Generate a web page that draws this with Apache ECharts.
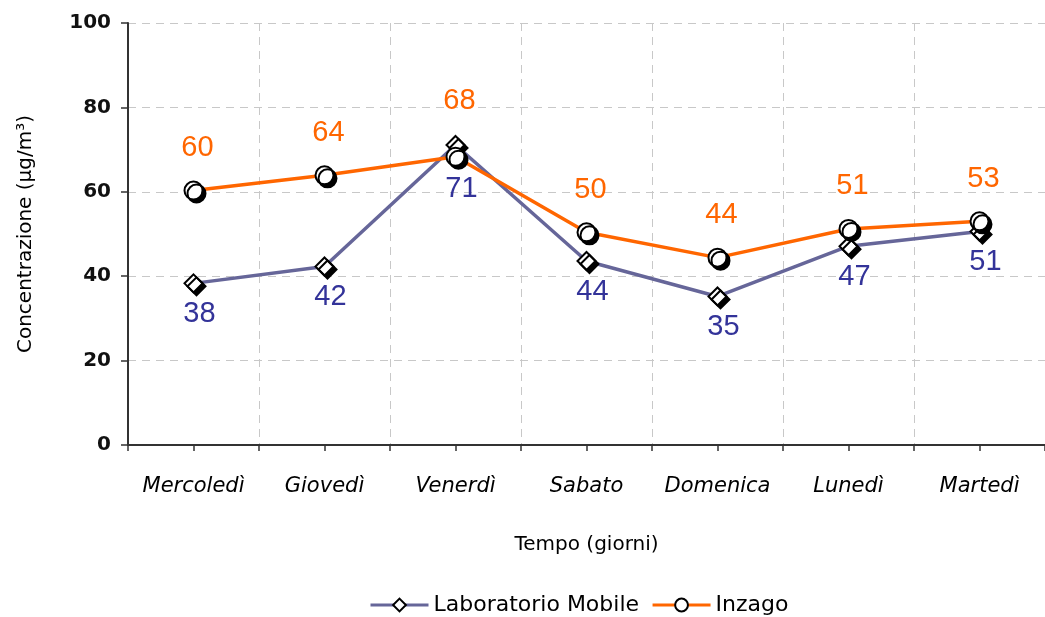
<!DOCTYPE html>
<html>
<head>
<meta charset="utf-8">
<script src="https://cdn.jsdelivr.net/npm/echarts@6/dist/echarts.min.js"></script>
<style>
html,body{margin:0;padding:0;background:#fff;}
#chart{width:1045px;height:617px;}
</style>
</head>
<body>
<div id="chart"></div>
<script>
const days = ['Mercoledì', 'Giovedì', 'Venerdì', 'Sabato', 'Domenica', 'Lunedì', 'Martedì'];
const laboratorioMobile = [38.3, 42.3, 71.1, 43.6, 35.2, 47.1, 50.6];
const inzago = [60.3, 63.9, 68.3, 50.4, 44.4, 51.2, 53.0];
const yTicks = [0, 20, 40, 60, 80, 100];

const chart = echarts.init(document.getElementById('chart'), null, {renderer: 'canvas'});
const markerShadow = {shadowColor: '#000', shadowBlur: 0, shadowOffsetX: 3, shadowOffsetY: 3};

// Venerdì labels were moved away from the crossing in the original
const labData = laboratorioMobile.map((v, i) => i === 2 ? {value: v, label: {distance: 20}} : v);
const inzData = inzago.map((v, i) => i === 2 ? {value: v, label: {distance: 31}} : v);

chart.setOption({
  animation: false,
  backgroundColor: '#fff',
  grid: {left: 128, top: 23, right: -7, bottom: 172, containLabel: false},
  legend: {
    top: 589,
    left: 364,
    itemWidth: 58,
    itemHeight: 16,
    itemGap: 12,
    lineStyle: {width: 3},
    textStyle: {fontFamily: 'DejaVu Sans', fontSize: 22, color: '#000'},
    data: ['Laboratorio Mobile', 'Inzago']
  },
  xAxis: [{
    type: 'category',
    data: days,
    boundaryGap: true,
    axisLine: {lineStyle: {color: '#333', width: 2}},
    axisTick: {show: true, interval: 0, length: 6, alignWithLabel: false, lineStyle: {color: '#333', width: 1.5}},
    axisLabel: {interval: 0, margin: 31, fontFamily: 'DejaVu Sans', fontStyle: 'italic', fontSize: 21, color: '#000'},
    splitLine: {show: true, interval: 0, lineStyle: {color: '#c8c8c8', type: [8, 6], width: 1}},
    name: 'Tempo (giorni)',
    nameLocation: 'middle',
    nameGap: 90,
    nameTextStyle: {fontFamily: 'DejaVu Sans', fontSize: 20, color: '#000'}
  }, {
    type: 'category',
    data: days,
    position: 'bottom',
    offset: 0,
    boundaryGap: true,
    axisLine: {show: false},
    axisTick: {show: true, interval: 0, length: 6, alignWithLabel: true, lineStyle: {color: '#333', width: 1.5}},
    axisLabel: {show: false, interval: 0},
    splitLine: {show: false}
  }],
  yAxis: {
    type: 'value',
    min: yTicks[0],
    max: yTicks[yTicks.length - 1],
    interval: 20,
    axisLine: {show: true, lineStyle: {color: '#333', width: 2}},
    axisTick: {show: true, length: 7, lineStyle: {color: '#333', width: 1.5}},
    axisLabel: {margin: 17, fontFamily: 'DejaVu Sans', fontWeight: 'bold', fontSize: 20, color: '#111'},
    splitLine: {show: true, lineStyle: {color: '#c8c8c8', type: [8, 6], width: 1}},
    name: 'Concentrazione (μg/m³)',
    nameLocation: 'middle',
    nameGap: 92,
    nameTextStyle: {fontFamily: 'DejaVu Sans', fontSize: 20, color: '#000'}
  },
  series: [{
    name: 'Laboratorio Mobile',
    type: 'line',
    xAxisIndex: 0,
    data: labData,
    symbol: 'diamond',
    symbolSize: 18,
    lineStyle: {color: '#666699', width: 3.5},
    itemStyle: Object.assign({color: '#fff', borderColor: '#000', borderWidth: 2}, markerShadow),
    label: {
      show: true, position: 'bottom', distance: 6, offset: [6, 0],
      formatter: p => Math.round(p.value),
      fontFamily: 'Liberation Sans', fontSize: 29, color: '#333399'
    }
  }, {
    name: 'Inzago',
    type: 'line',
    xAxisIndex: 0,
    data: inzData,
    symbol: 'circle',
    symbolSize: 18,
    lineStyle: {color: '#FF6600', width: 3.5},
    itemStyle: Object.assign({color: '#fff', borderColor: '#000', borderWidth: 2}, markerShadow),
    label: {
      show: true, position: 'top', distance: 18, offset: [4, 0],
      formatter: p => Math.round(p.value),
      fontFamily: 'Liberation Sans', fontSize: 29, color: '#FF6600'
    }
  }]
});
</script>
</body>
</html>
